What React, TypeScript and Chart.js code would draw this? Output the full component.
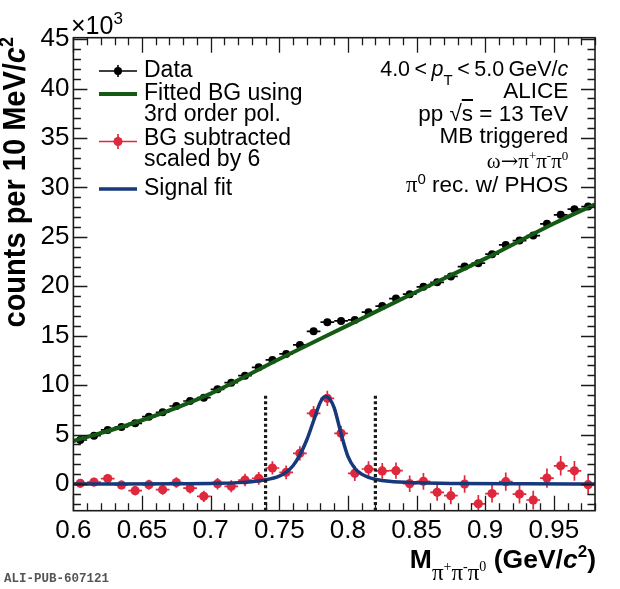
import React, { useEffect, useRef } from "react";
import { Chart, registerables } from "chart.js";

Chart.register(...registerables);

// ---------------- data (values in units of 10^3 counts) ----------------
const massBins = [
  0.605, 0.615, 0.625, 0.635, 0.645, 0.655, 0.665, 0.675, 0.685, 0.695,
  0.705, 0.715, 0.725, 0.735, 0.745, 0.755, 0.765, 0.775, 0.785, 0.795,
  0.805, 0.815, 0.825, 0.835, 0.845, 0.855, 0.865, 0.875, 0.885, 0.895,
  0.905, 0.915, 0.925, 0.935, 0.945, 0.955, 0.965, 0.975,
];
const halfBinWidth = 0.005;

const dataCounts = [
  4.45, 4.89, 5.47, 5.77, 6.14, 6.81, 7.26, 7.89, 8.4, 8.73,
  9.58, 10.25, 10.96, 11.8, 12.55, 13.16, 14.07, 15.45, 16.37, 16.5,
  16.6, 17.38, 18.0, 18.76, 19.2, 19.95, 20.4, 21.0, 22.0, 22.34,
  23.25, 24.19, 24.63, 25.13, 26.32, 27.23, 27.8, 28.07,
];

const bgSubtracted = [
  0.07, 0.2, 0.55, -0.1, -0.67, -0.07, -0.57, 0.15, -0.42, -1.25,
  0.03, -0.23, 0.4, 0.57, 1.62, 1.18, 3.1, 7.15, 8.67, 5.13,
  1.08, 1.52, 1.32, 1.35, 0.03, 0.27, -0.84, -1.18, 0.0, -2.0,
  -0.97, 0.24, -1.02, -1.62, 0.6, 1.84, 1.33, -0.07,
];
const bgSubErr = [
  0.4, 0.42, 0.44, 0.46, 0.47, 0.5, 0.51, 0.53, 0.55, 0.56,
  0.59, 0.61, 0.63, 0.65, 0.67, 0.69, 0.71, 0.75, 0.77, 0.77,
  0.77, 0.79, 0.8, 0.82, 0.83, 0.85, 0.86, 0.87, 0.89, 0.9,
  0.91, 0.93, 0.94, 0.95, 0.97, 0.99, 1.0, 1.0,
];

// 3rd order polynomial background fit
const bgFitX = [0.6, 0.65, 0.7, 0.75, 0.8, 0.85, 0.9, 0.95, 0.98];
const bgFitY = [4.35, 6.45, 9.15, 12.65, 16.05, 19.45, 22.8, 26.35, 28.3];

// signal fit
const sigFitX = [
  0.6, 0.68, 0.7, 0.72, 0.73, 0.74, 0.75, 0.755, 0.76, 0.765, 0.77, 0.775,
  0.78, 0.7835, 0.787, 0.79, 0.795, 0.8, 0.805, 0.81, 0.815, 0.82, 0.83,
  0.85, 0.88, 0.93, 0.98,
];
const sigFitY = [
  0.0, 0.03, 0.06, 0.14, 0.24, 0.42, 0.8, 1.2, 1.85, 2.95, 4.45, 6.4,
  8.3, 8.85, 8.55, 7.7, 5.1, 2.8, 1.6, 1.0, 0.68, 0.48, 0.27,
  0.12, 0.05, 0.02, 0.01,
];

// integration window (dotted lines)
const windowEdges = [0.74, 0.82];
const windowTop = 9.0;

// axes
const xMin = 0.6;
const xMax = 0.98;
const yMin = -2.7;
const yMax = 45.15;
const xTickValues = [0.6, 0.65, 0.7, 0.75, 0.8, 0.85, 0.9, 0.95];
const xTickLabels = ["0.6", "0.65", "0.7", "0.75", "0.8", "0.85", "0.9", "0.95"];
const yTickValues = [0, 5, 10, 15, 20, 25, 30, 35, 40, 45];
const yTickLabels = ["0", "5", "10", "15", "20", "25", "30", "35", "40", "45"];

// ---------------- style ----------------
const SANS = "'Liberation Sans', Arial, sans-serif";
const SERIF = "'Liberation Serif', 'Times New Roman', serif";
const MONO = "'Liberation Mono', monospace";
const GREEN = "#145a14";
const RED = "#e0283c";
const BLUE = "#15397a";
const W = 620;
const H = 589;

const rootStylePlugin = {
  id: "rootStyle",
  afterDatasetDraw(chart: any, args: any) {
    const ds = chart.data.datasets[args.index];
    if (ds.label !== "Data" && ds.label !== "BGsub") return;
    const xs = chart.scales.x;
    const ys = chart.scales.y;
    const ctx = chart.ctx;
    const a = chart.chartArea;
    const isData = ds.label === "Data";
    const vals = isData ? dataCounts : bgSubtracted;
    ctx.save();
    ctx.beginPath();
    ctx.rect(a.left, a.top, a.right - a.left, a.bottom - a.top);
    ctx.clip();
    ctx.strokeStyle = isData ? "#000" : RED;
    ctx.lineWidth = 1.7;
    massBins.forEach((m, i) => {
      const py = ys.getPixelForValue(vals[i]);
      const px = xs.getPixelForValue(m);
      ctx.beginPath();
      ctx.moveTo(xs.getPixelForValue(m - halfBinWidth), py);
      ctx.lineTo(xs.getPixelForValue(m + halfBinWidth), py);
      if (!isData) {
        ctx.moveTo(px, ys.getPixelForValue(vals[i] - bgSubErr[i]));
        ctx.lineTo(px, ys.getPixelForValue(vals[i] + bgSubErr[i]));
      }
      ctx.stroke();
    });
    ctx.restore();
  },
  afterDraw(chart: any) {
    const ctx = chart.ctx;
    const a = chart.chartArea;
    const xs = chart.scales.x;
    const ys = chart.scales.y;
    ctx.save();
    ctx.strokeStyle = "#1a1a1a";
    ctx.lineWidth = 1.3;
    // x ticks (bottom and top, inside)
    const xStep = (xTickValues[1] - xTickValues[0]) / 5;
    for (let k = -20; k < 200; k++) {
      const v = xTickValues[0] + k * xStep;
      if (v < xMin - 1e-9 || v > xMax + 1e-9) continue;
      const major = Math.abs(k % 5) === 0;
      const len = major ? 15 : 7.5;
      const px = Math.round(xs.getPixelForValue(v)) + 0.5;
      ctx.beginPath();
      ctx.moveTo(px, a.bottom);
      ctx.lineTo(px, a.bottom - len);
      ctx.moveTo(px, a.top);
      ctx.lineTo(px, a.top + len);
      ctx.stroke();
    }
    const yStep = (yTickValues[1] - yTickValues[0]) / 5;
    for (let k = -20; k < 300; k++) {
      const v = yTickValues[0] + k * yStep;
      if (v < yMin - 1e-9 || v > yMax + 1e-9) continue;
      const major = Math.abs(k % 5) === 0;
      const len = major ? 14 : 7.5;
      const py = Math.round(ys.getPixelForValue(v)) + 0.5;
      ctx.beginPath();
      ctx.moveTo(a.left, py);
      ctx.lineTo(a.left + len, py);
      ctx.moveTo(a.right, py);
      ctx.lineTo(a.right - len, py);
      ctx.stroke();
    }
    // frame
    ctx.lineWidth = 1.6;
    ctx.strokeRect(a.left, a.top, a.right - a.left, a.bottom - a.top);
    ctx.restore();

    // legend symbols
    ctx.save();
    const lx0 = 99;
    const lx1 = 137;
    const lxm = 118;
    // Data
    ctx.strokeStyle = "#000";
    ctx.lineWidth = 1.6;
    ctx.beginPath();
    ctx.moveTo(lx0, 71);
    ctx.lineTo(lx1, 71);
    ctx.moveTo(lxm, 65);
    ctx.lineTo(lxm, 77);
    ctx.stroke();
    ctx.fillStyle = "#000";
    ctx.beginPath();
    ctx.arc(lxm, 71, 4, 0, Math.PI * 2);
    ctx.fill();
    // BG fit
    ctx.strokeStyle = GREEN;
    ctx.lineWidth = 4;
    ctx.beginPath();
    ctx.moveTo(lx0, 94);
    ctx.lineTo(lx1, 94);
    ctx.stroke();
    // BG subtracted
    ctx.strokeStyle = RED;
    ctx.fillStyle = RED;
    ctx.lineWidth = 1.7;
    ctx.beginPath();
    ctx.moveTo(lx0, 141.5);
    ctx.lineTo(lx1, 141.5);
    ctx.moveTo(lxm, 134);
    ctx.lineTo(lxm, 149);
    ctx.stroke();
    ctx.beginPath();
    ctx.arc(lxm, 141.5, 4.5, 0, Math.PI * 2);
    ctx.fill();
    // Signal fit
    ctx.strokeStyle = BLUE;
    ctx.lineWidth = 3.5;
    ctx.beginPath();
    ctx.moveTo(lx0, 189);
    ctx.lineTo(lx1, 189);
    ctx.stroke();
    ctx.restore();
  },
};

function Txt(props: any) {
  const { x, base, size, align = "left", bold = false, family = SANS, factor = 0.8465, color = "#000", children, extra = {} } = props;
  const style: any = {
    position: "absolute",
    top: base - factor * size,
    fontSize: size,
    lineHeight: `${size}px`,
    fontFamily: family,
    fontWeight: bold ? "bold" : "normal",
    whiteSpace: "nowrap",
    color,
    ...extra,
  };
  if (align === "left") style.left = x;
  else style.right = W - x;
  return <div style={style}>{children}</div>;
}

function Shift(props: any) {
  const { size, dy, family, bold, children } = props;
  const st: any = { fontSize: size, position: "relative", top: dy, lineHeight: 1 };
  if (family) st.fontFamily = family;
  if (bold !== undefined) st.fontWeight = bold ? "bold" : "normal";
  return <span style={st}>{children}</span>;
}

export default function App() {
  const ref = useRef<HTMLCanvasElement>(null);

  useEffect(() => {
    const canvas = ref.current;
    if (!canvas) return;
    const chart = new Chart(canvas, {
      type: "scatter",
      data: {
        datasets: [
          {
            label: "Data",
            type: "scatter",
            data: massBins.map((x, i) => ({ x, y: dataCounts[i] })),
            pointRadius: 4,
            pointBackgroundColor: "#000",
            pointBorderWidth: 0,
            showLine: false,
            order: 4,
          } as any,
          {
            label: "BGfit",
            type: "line",
            data: bgFitX.map((x, i) => ({ x, y: bgFitY[i] })),
            borderColor: GREEN,
            borderWidth: 4,
            pointRadius: 0,
            cubicInterpolationMode: "monotone",
            fill: false,
            order: 3,
          } as any,
          {
            label: "BGsub",
            type: "scatter",
            data: massBins.map((x, i) => ({ x, y: bgSubtracted[i] })),
            pointRadius: 4.6,
            pointBackgroundColor: RED,
            pointBorderWidth: 0,
            showLine: false,
            order: 2,
          } as any,
          {
            label: "Signal",
            type: "line",
            data: sigFitX.map((x, i) => ({ x, y: sigFitY[i] })),
            borderColor: BLUE,
            borderWidth: 3.5,
            pointRadius: 0,
            cubicInterpolationMode: "monotone",
            fill: false,
            order: 1,
          } as any,
          ...windowEdges.map(
            (e) =>
              ({
                label: "window",
                type: "line",
                data: [
                  { x: e, y: yMin },
                  { x: e, y: windowTop },
                ],
                borderColor: "#1a1a1a",
                borderWidth: 3.2,
                borderDash: [3, 2.6],
                pointRadius: 0,
                fill: false,
                order: 0,
              }) as any
          ),
        ],
      },
      options: {
        responsive: false,
        animation: false,
        layout: { padding: { left: 0, right: 25, top: 37.7, bottom: 0 } },
        plugins: {
          legend: { display: false },
          tooltip: { enabled: false },
          title: { display: false },
        },
        scales: {
          x: {
            type: "linear",
            min: xMin,
            max: xMax,
            afterFit: (s: any) => {
              s.height = 78.3;
            },
            afterBuildTicks: (s: any) => {
              s.ticks = xTickValues.map((v) => ({ value: v }));
            },
            grid: { display: false, drawTicks: false },
            border: { display: false },
            ticks: {
              autoSkip: false,
              maxRotation: 0,
              minRotation: 0,
              padding: 5,
              color: "#000",
              font: { family: SANS, size: 26 },
              callback: (_v: any, i: number) => xTickLabels[i],
            },
          },
          y: {
            type: "linear",
            min: yMin,
            max: yMax,
            afterFit: (s: any) => {
              s.width = 73.4;
            },
            afterBuildTicks: (s: any) => {
              s.ticks = yTickValues.map((v) => ({ value: v }));
            },
            grid: { display: false, drawTicks: false },
            border: { display: false },
            ticks: {
              autoSkip: false,
              padding: 4,
              color: "#000",
              font: { family: SANS, size: 26 },
              callback: (_v: any, i: number) => yTickLabels[i],
            },
          },
        },
      } as any,
      plugins: [rootStylePlugin as any],
    });
    return () => chart.destroy();
  }, []);

  return (
    <div style={{ position: "fixed", left: 0, top: 0, width: W, height: H, background: "#fff", overflow: "hidden" }}>
      <canvas ref={ref} width={W} height={H} style={{ position: "absolute", left: 0, top: 0, width: W, height: H }} />
      <div style={{ position: "absolute", left: 0, top: 0, width: W, height: H, pointerEvents: "none" }}>
        {/* x10^3 */}
        <Txt x={71} base={34} size={25}>
          ×10<Shift size={17} dy={-10}>3</Shift>
        </Txt>

        {/* legend */}
        <Txt x={144} base={77.3} size={23}>Data</Txt>
        <Txt x={144} base={100} size={23}>Fitted BG using</Txt>
        <Txt x={144} base={121.7} size={23}>3rd order pol.</Txt>
        <Txt x={144} base={145.7} size={23}>BG subtracted</Txt>
        <Txt x={144} base={166.7} size={23}>scaled by 6</Txt>
        <Txt x={144} base={195} size={23}>Signal fit</Txt>

        {/* right annotations */}
        <Txt x={568.3} base={76.7} size={21.5} align="right" extra={{ wordSpacing: "-1.5px" }}>
          4.0 &lt; <i>p</i>
          <Shift size={15} dy={9}>T</Shift> &lt; 5.0 GeV/<i>c</i>
        </Txt>
        <Txt x={568.3} base={99} size={22.5} align="right">ALICE</Txt>
        <Txt x={568.3} base={121.7} size={22.5} align="right">
          pp √<span style={{ textDecoration: "overline" }}>s</span> = 13 TeV
        </Txt>
        <Txt x={568.3} base={144.3} size={22.5} align="right">MB triggered</Txt>
        <Txt x={568.3} base={168.3} size={21} align="right" family={SERIF} factor={0.8375}>
          ω<span style={{ fontFamily: "'DejaVu Serif', serif", fontSize: 21 }}>→</span>π
          <Shift size={13} dy={-8}>+</Shift>π<Shift size={13} dy={-8}>-</Shift>π<Shift size={13} dy={-8}>0</Shift>
        </Txt>
        <Txt x={568.3} base={192.7} size={22.5} align="right">
          <span style={{ fontFamily: SERIF }}>π</span>
          <Shift size={15} dy={-8}>0</Shift> rec. w/ PHOS
        </Txt>

        {/* y axis title */}
        <div style={{ position: "absolute", left: -1.5, top: 37, width: 0, height: 0 }}>
          <div
            style={{
              position: "absolute",
              right: 0,
              top: 0,
              transformOrigin: "right top",
              transform: "rotate(-90deg) scaleY(1.1)",
              fontSize: 29,
              lineHeight: "29px",
              fontWeight: "bold",
              whiteSpace: "nowrap",
              fontFamily: SANS,
              color: "#000",
            }}
          >
            counts per 10 MeV/<i>c</i>
            <Shift size={18} dy={-11}>2</Shift>
          </div>
        </div>

        {/* x axis title */}
        <Txt x={596} base={568.5} size={26.5} align="right" bold>
          M
          <Shift size={23} dy={12} family={SERIF} bold={false}>
            π<Shift size={14} dy={-9}>+</Shift>π<Shift size={14} dy={-9}>-</Shift>π<Shift size={14} dy={-9}>0</Shift>
          </Shift>{" "}
          (GeV/<i>c</i>
          <Shift size={17} dy={-11}>2</Shift>)
        </Txt>

        {/* publication id */}
        <Txt x={4} base={582.5} size={12.5} family={MONO} factor={0.7665} bold color="#555">
          ALI-PUB-607121
        </Txt>
      </div>
    </div>
  );
}
